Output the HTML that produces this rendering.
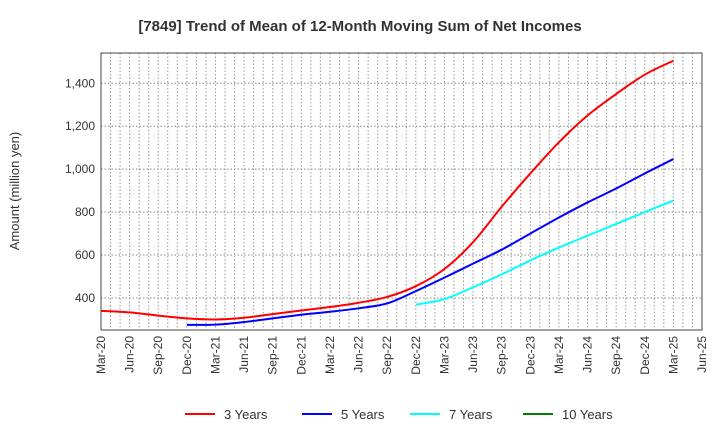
<!DOCTYPE html>
<html><head><meta charset="utf-8"><style>
body{margin:0;background:#fff;font-family:"Liberation Sans",sans-serif}
svg text{font-family:"Liberation Sans",sans-serif}
</style></head><body>
<svg id="c" width="720" height="440">
<text x="360" y="31" text-anchor="middle" font-size="15" font-weight="bold" fill="#333">[7849]  Trend of Mean of 12-Month Moving Sum of Net Incomes</text>
<text transform="translate(19,191) rotate(-90)" text-anchor="middle" font-size="13" fill="#333">Amount (million yen)</text>
<g id="grid"></g><g id="series"></g><g id="axes"></g>
<g id="legend"></g>
</svg>
<script>
const xLabels=["Mar-20","Jun-20","Sep-20","Dec-20","Mar-21","Jun-21","Sep-21","Dec-21","Mar-22","Jun-22","Sep-22","Dec-22","Mar-23","Jun-23","Sep-23","Dec-23","Mar-24","Jun-24","Sep-24","Dec-24","Mar-25","Jun-25"];
const yTicks=[400,600,800,1000,1200,1400];
const s3=[340,333,318,305,300,308,325,342,358,378,405,455,535,660,825,980,1125,1250,1350,1440,1505];
const s5=[null,null,null,275,276,288,305,322,336,352,375,432,495,560,625,700,775,845,910,980,1047];
const s7=[null,null,null,null,null,null,null,null,null,null,null,369,395,450,510,575,635,690,745,800,854];
const s10=[];
const L=101,R=702,T=53,B=330,yMin=251,yMax=1541;
const ns="http://www.w3.org/2000/svg";
const X=i=>L+i*(R-L)/63; // i in months from Mar-20
const Y=v=>B-(v-yMin)/(yMax-yMin)*(B-T);
function mk(t,a,p){const e=document.createElementNS(ns,t);for(const k in a)e.setAttribute(k,a[k]);p.appendChild(e);return e;}
const g=document.getElementById('grid'),ax=document.getElementById('axes'),se=document.getElementById('series'),lg=document.getElementById('legend');
for(let m=1;m<63;m++){const l=mk('line',{x1:X(m),x2:X(m),y1:T,y2:B,stroke:'#999','stroke-dasharray':'1.5,2','stroke-width':1},g);

}
yTicks.forEach(v=>{const l=mk('line',{x1:L,x2:R,y1:Y(v),y2:Y(v),stroke:'#888','stroke-dasharray':'1.5,2','stroke-width':1},g);


const t=mk('text',{x:L-6,y:Y(v)+4,'text-anchor':'end','font-size':12,fill:'#333'},ax);t.textContent=v.toLocaleString('en-US');

});
xLabels.forEach((s,i)=>{const x=X(i*3);const t=mk('text',{transform:`translate(${x+4},${B+6}) rotate(-90)`,'text-anchor':'end','font-size':12,fill:'#333'},ax);t.textContent=s;

});
const fr=mk('rect',{x:L,y:T,width:R-L,height:B-T,fill:'none',stroke:'#444','stroke-width':1},ax);


function path(arr){const p=[];arr.forEach((v,i)=>{if(v!=null)p.push([X(i*3),Y(v)]);});if(p.length<2)return '';
let d=`M${p[0][0]},${p[0][1]}`;for(let i=0;i<p.length-1;i++){const p0=p[Math.max(0,i-1)],p1=p[i],p2=p[i+1],p3=p[Math.min(p.length-1,i+2)];
d+=` C${p1[0]+(p2[0]-p0[0])/6},${p1[1]+(p2[1]-p0[1])/6} ${p2[0]-(p3[0]-p1[0])/6},${p2[1]-(p3[1]-p1[1])/6} ${p2[0]},${p2[1]}`;}return d;}
const series=[[s3,'#ff0000','3 Years','line-3-years',185],[s5,'#0000ff','5 Years','line-5-years',302],[s7,'#00ffff','7 Years','line-7-years',410],[s10,'#008000','10 Years','line-10-years',523]];
series.forEach(([a,c,n,id,lx])=>{const d=path(a);if(d){const p=mk('path',{d,fill:'none',stroke:c,'stroke-width':2},se);

}
const l=mk('line',{x1:lx,x2:lx+30,y1:414,y2:414,stroke:c,'stroke-width':2},lg);


const t=mk('text',{x:lx+39,y:419,'font-size':13,fill:'#333'},lg);t.textContent=n;

});
</script>
</body></html>
